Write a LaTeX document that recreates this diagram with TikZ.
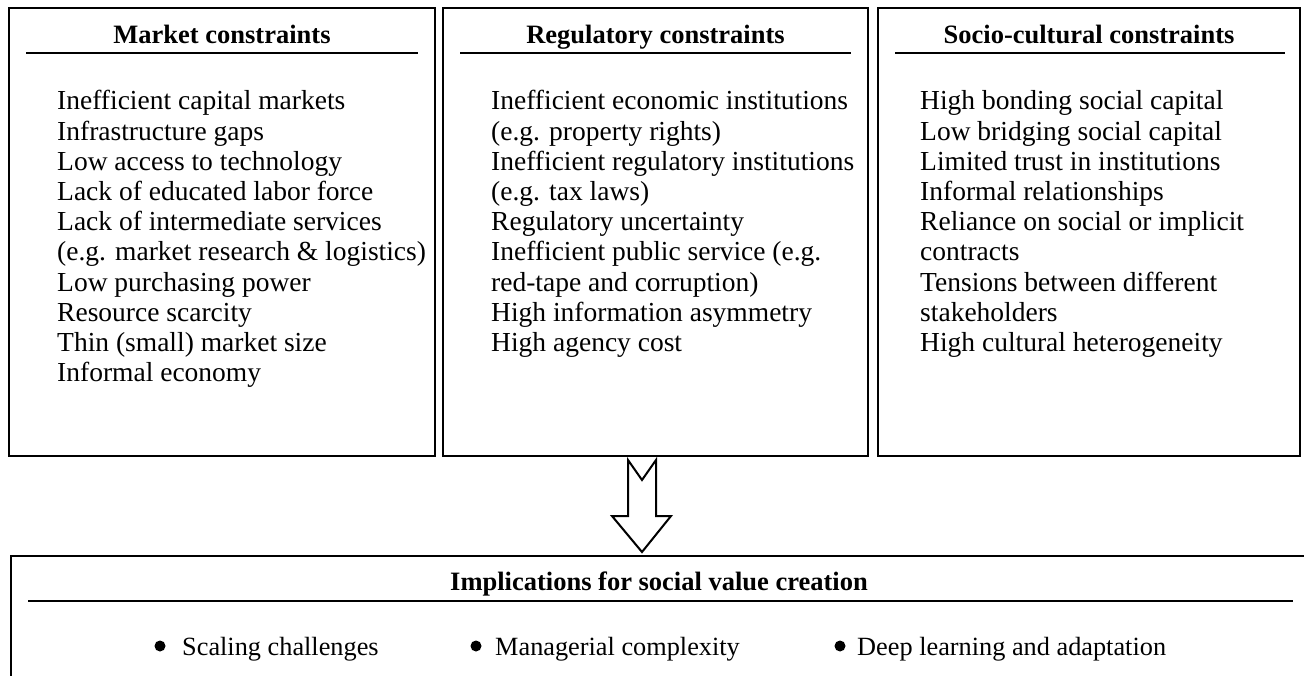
\documentclass[tikz,border=0pt]{standalone}
\usepackage{fontspec}
\setmainfont{Liberation Serif}
\begin{document}
\begin{tikzpicture}[x=1pt,y=-1pt,
  box/.style={line width=2.6pt},
  rule/.style={line width=1.6pt},
  head/.style={font=\fontsize{26.5}{30}\selectfont\bfseries, anchor=base, inner sep=0pt},
  item/.style={font=\fontsize{27.5}{30}\selectfont, anchor=base west, inner sep=0pt},
  bitem/.style={font=\fontsize{26.3}{30}\selectfont, anchor=base west, inner sep=0pt},
  bul/.style={circle, fill=black, inner sep=0pt, minimum size=11pt},
  bigarrow/.style={line width=2pt, line join=miter, fill=white}
]
\useasboundingbox (0,0) rectangle (1304,676);
\fill[white] (0,0) rectangle (1304,676);
% top boxes
\draw[box] (9,8) rectangle (435,456);
\draw[box] (443,8) rectangle (868,456);
\draw[box] (878,8) rectangle (1300,456);
\node[head] (h1) at (222,44) {Market constraints};
\node[head] (h2) at (655.5,44) {Regulatory constraints};
\node[head] (h3) at (1089,44) {Socio-cultural constraints};
\draw[rule] (26,53) -- (418,53);
\draw[rule] (460,53) -- (851,53);
\draw[rule] (895,53) -- (1285,53);
\foreach \t [count=\i] in {Inefficient capital markets, Infrastructure gaps, Low access to technology, Lack of educated labor force, Lack of intermediate services, (e.g. market research \& logistics), Low purchasing power, Resource scarcity, Thin (small) market size, Informal economy}
  \node[item] (m\i) at (57,{110+30.2*(\i-1)}) {\t};
\foreach \t [count=\i] in {Inefficient economic institutions, (e.g. property rights), Inefficient regulatory institutions, (e.g. tax laws), Regulatory uncertainty, Inefficient public service (e.g., red-tape and corruption), High information asymmetry, High agency cost}
  \node[item] (r\i) at (491,{110+30.2*(\i-1)}) {\t};
\foreach \t [count=\i] in {High bonding social capital, Low bridging social capital, Limited trust in institutions, Informal relationships, Reliance on social or implicit, contracts, Tensions between different, stakeholders, High cultural heterogeneity}
  \node[item] (s\i) at (920,{110+30.2*(\i-1)}) {\t};
% arrow
\draw[bigarrow] (628,460) -- (642,480) -- (656,460) -- (656,516) -- (671,516) -- (642,552) -- (612,516) -- (628,516) -- cycle;
% bottom box
\draw[box] (11,676) -- (11,556) -- (1304,556);
\node[head] (h4) at (659,590) {Implications for social value creation};
\draw[rule] (28,601) -- (1293,601);
\node[bul] (b1) at (160,646) {};
\node[bitem] (t1) at (182,655) {Scaling challenges};
\node[bul] (b2) at (476,646) {};
\node[bitem] (t2) at (495,655) {Managerial complexity};
\node[bul] (b3) at (840,646) {};
\node[bitem] (t3) at (857,655) {Deep learning and adaptation};
\end{tikzpicture}
\end{document}
